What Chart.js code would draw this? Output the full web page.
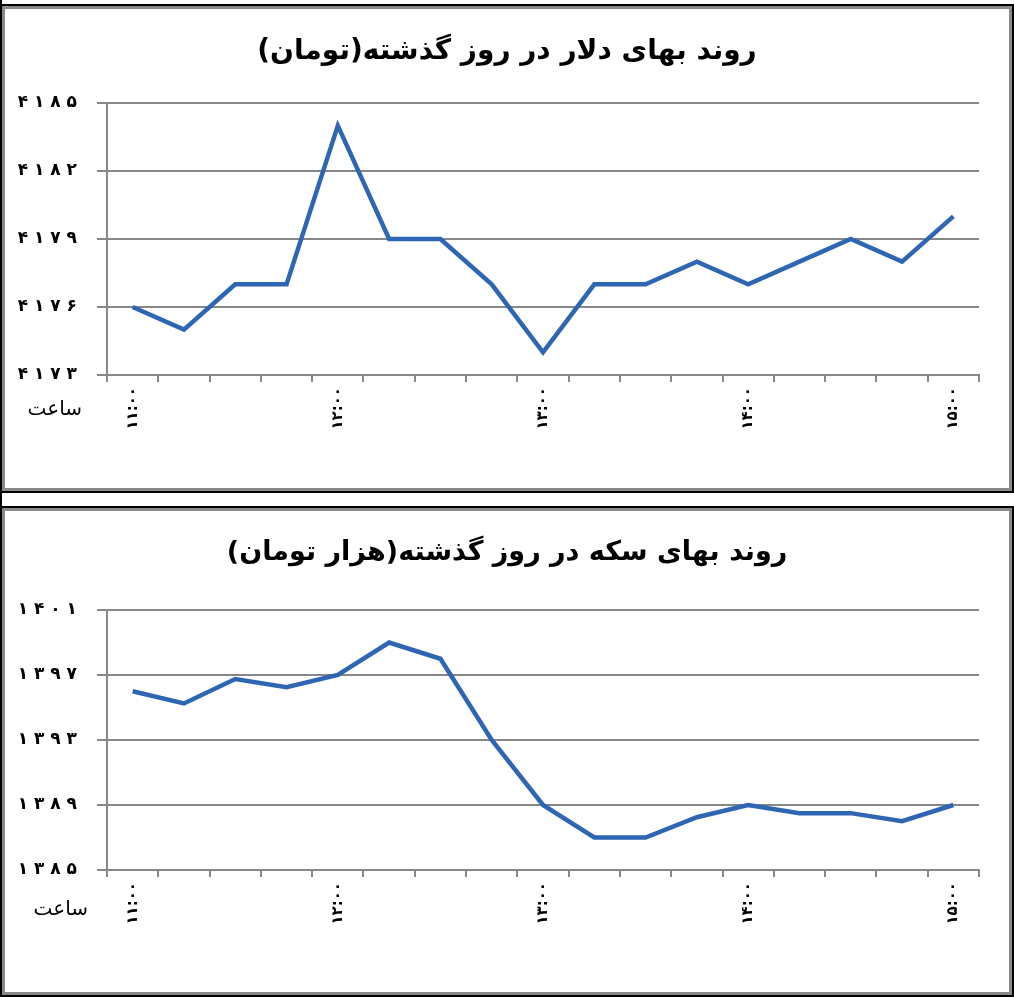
<!DOCTYPE html>
<html lang="fa">
<head>
<meta charset="utf-8">
<title>روند بهای دلار و سکه</title>
<script src="https://cdn.jsdelivr.net/npm/chart.js@4/dist/chart.umd.min.js"></script>
<style>
    html, body { margin: 0; padding: 0; background: #fff; }
    #page { position: relative; width: 1014px; height: 997px; overflow: hidden; background: #fff; }
    .panel { position: absolute; left: 0; width: 1014px; box-sizing: border-box; border: 2px solid #000; }
    .inner { position: absolute; left: 0; top: 0; right: 0; bottom: 0; border: 3px solid #8a8a8a; }
    .inner canvas { position: absolute; left: 0; top: 0; }
    #leftRule { position: absolute; left: 0; top: 0; width: 2px; height: 997px; background: #000; }
</style>
</head>
<body>
<div id="page">
    <div id="leftRule"></div>
    <div class="panel" style="top:4px;height:489px;">
        <div class="inner"><canvas id="dollarChart" width="1004" height="479"></canvas></div>
    </div>
    <div class="panel" style="top:506px;height:491px;">
        <div class="inner"><canvas id="coinChart" width="1004" height="481"></canvas></div>
    </div>
</div>
<script>
// ساعت‌ها - هر ۱۵ دقیقه
const times = [
    '11:00', '11:15', '11:30', '11:45', '12:00', '12:15', '12:30', '12:45',
    '13:00', '13:15', '13:30', '13:45', '14:00', '14:15', '14:30', '14:45', '15:00'
];

// بهای دلار (تومان)
const dollarValues = [4176, 4175, 4177, 4177, 4184, 4179, 4179, 4177, 4174,
    4177, 4177, 4178, 4177, 4178, 4179, 4178, 4180];
const dollarTicks = [4173, 4176, 4179, 4182, 4185];

// بهای سکه (هزار تومان)
const coinValues = [1396, 1395.25, 1396.75, 1396.25, 1397, 1399, 1398, 1393, 1389,
    1387, 1387, 1388.25, 1389, 1388.5, 1388.5, 1388, 1389];
const coinTicks = [1385, 1389, 1393, 1397, 1401];

const dollarTitle = 'روند بهای دلار در روز گذشته(تومان)';
const coinTitle = 'روند بهای سکه در روز گذشته(هزار تومان)';
const hourText = 'ساعت';

const GRID = '#878787';
const LINE = '#2f66b3';
const FONT = '"DejaVu Sans", sans-serif';

function toFa(s) {
    return String(s).replace(/\d/g, d => '۰۱۲۳۴۵۶۷۸۹'[d]);
}

// برچسب «ساعت» کنار محور افقی
const hourLabel = {
    id: 'hourLabel',
    afterDraw(chart, args, opts) {
        const ctx = chart.ctx;
        const area = chart.chartArea;
        ctx.save();
        ctx.font = '20px ' + FONT;
        ctx.fillStyle = '#000';
        ctx.textAlign = 'right';
        ctx.textBaseline = 'middle';
        ctx.fillText(opts.text, area.left - opts.dx, area.bottom + opts.dy);
        ctx.restore();
    }
};

function makeChart(id, values, ticks, title, t) {
    const ctx = document.getElementById(id).getContext('2d');
    return new Chart(ctx, {
        type: 'line',
        data: {
            labels: times,
            datasets: [{
                data: values,
                borderColor: LINE,
                borderWidth: 4.5,
                pointRadius: 0,
                tension: 0,
                fill: false
            }]
        },
        options: {
            responsive: false,
            animation: false,
            events: [],
            layout: { padding: 0 },
            plugins: {
                legend: { display: false },
                tooltip: { enabled: false },
                title: {
                    display: true,
                    text: title + '\u200F',
                    color: '#000',
                    font: { family: FONT, size: t.titleSize, weight: 'bold', lineHeight: 1.2 },
                    padding: { top: t.titleTop, bottom: t.titleBottom }
                },
                hourLabel: { text: hourText, dx: t.hourDx, dy: t.hourDy }
            },
            scales: {
                x: {
                    offset: true,
                    afterFit: s => { s.height = t.xHeight; },
                    grid: {
                        display: true,
                        drawOnChartArea: false,
                        offset: true,
                        tickLength: 7,
                        color: GRID,
                        lineWidth: 2
                    },
                    border: { color: GRID, width: 2 },
                    ticks: {
                        autoSkip: false,
                        maxRotation: 90,
                        minRotation: 90,
                        padding: 5,
                        color: '#000',
                        font: { family: FONT, size: 15, weight: 'bold' },
                        callback: (v, i) => i % 4 === 0 ? toFa(times[i]) : ''
                    }
                },
                y: {
                    min: ticks[0],
                    max: ticks[ticks.length - 1],
                    afterFit: s => { s.width = 102; },
                    grid: { color: GRID, lineWidth: 2, tickLength: 10 },
                    border: { color: GRID, width: 2 },
                    ticks: {
                        stepSize: ticks[1] - ticks[0],
                        padding: 20,
                        color: '#000',
                        font: { family: FONT, size: 17, weight: 'bold' },
                        callback: v => toFa(v).split('').join(' ')
                    }
                },
                // فضای خالی سمت راست
                yRight: {
                    position: 'right',
                    min: ticks[0],
                    max: ticks[ticks.length - 1],
                    afterFit: s => { s.width = 30; },
                    grid: { display: false, drawOnChartArea: false },
                    border: { display: false },
                    ticks: { display: false }
                }
            }
        },
        plugins: [hourLabel]
    });
}

makeChart('dollarChart', dollarValues, dollarTicks, dollarTitle,
    { titleSize: 28, titleTop: 26.2, titleBottom: 34.2, xHeight: 113, hourDx: 25, hourDy: 35 });
makeChart('coinChart', coinValues, coinTicks, coinTitle,
    { titleSize: 27, titleTop: 25.8, titleBottom: 40.8, xHeight: 122, hourDx: 19, hourDy: 40 });
</script>
</body>
</html>
